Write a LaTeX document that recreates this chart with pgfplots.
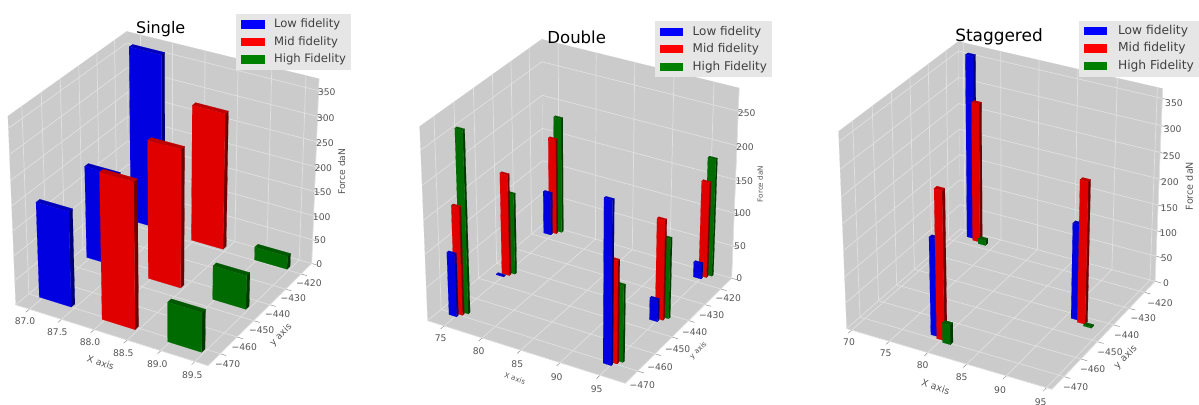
\documentclass[border=0pt]{standalone}
\usepackage{fontspec}
\usepackage{pgfplots}
\usepackage{pgfplotstable}
\pgfplotsset{compat=1.18}
\setmainfont{DejaVu Sans}
\definecolor{pane}{HTML}{CBCBCB}
\definecolor{gridc}{HTML}{E0E0E0}
\definecolor{tickc}{HTML}{8A8A8A}
\definecolor{txt}{HTML}{555555}
\definecolor{legbg}{HTML}{E6E6E6}
\definecolor{lowF}{HTML}{0000E0}\definecolor{lowT}{HTML}{0000BC}\definecolor{lowS}{HTML}{000078}
\definecolor{midF}{HTML}{E00000}\definecolor{midT}{HTML}{BE0000}\definecolor{midS}{HTML}{700000}
\definecolor{highF}{HTML}{006B00}\definecolor{highT}{HTML}{005800}\definecolor{highS}{HTML}{003800}

% unit faces of a box
\pgfplotstableread{
a b c
0 0 1
1 0 1
1 1 1
0 1 1
}\tTop
\pgfplotstableread{
a b c
0 0 0
1 0 0
1 0 1
0 0 1
}\tFront
\pgfplotstableread{
a b c
1 0 0
1 1 0
1 1 1
1 0 1
}\tSide
\pgfplotstableread{
a b c
0 0 0
0 1 0
0 1 1
0 0 1
}\tLeft
\pgfplotstableread{
a b c
0 1 0
1 1 0
1 1 1
0 1 1
}\tBack
\pgfplotstableread{
a b c
0 0 0
1 0 0
1 1 0
0 1 0
}\tFloor
\pgfplotstableread{
a b c
0 0 0
0 1 0
0 1 1
}\tGX
\pgfplotstableread{
a b c
1 0 0
0 0 0
0 0 1
}\tGY
\pgfplotstableread{
a b c
0 0 0
0 1 0
1 1 0
}\tGZ
\pgfplotstableread{
a b c
0 0 0
1 1 1
}\tSeg

% bars: x y dx dy height series, back to front
\pgfplotstableread{
x y dx dy h c
86.95 -417.7 0.5 2 359 low
87.96 -418.9 0.5 2 279 mid
88.97 -419.7 0.5 2 27 high
86.95 -443.7 0.5 2 189 low
87.96 -444.9 0.5 2 280 mid
88.97 -445.7 0.5 2 69 high
86.95 -470 0.5 2 193 low
87.96 -471.2 0.5 2 292 mid
88.97 -472 0.5 2 80 high
}\barsSingle
\pgfplotstableread{
x y dx dy h c
74.7 -414.6 1 1 176 high
74.3 -416.1 1 1 146 mid
73.9 -417.6 1 1 65 low
94.92 -414.9 1 1 177 high
94.52 -416.4 1 1 144 mid
94.12 -417.9 1 1 23 low
74.95 -442.7 1 1 122 high
74.55 -444.2 1 1 153 mid
74.15 -445.7 1 1 1 low
94.98 -442 1 1 120 high
94.58 -443.5 1 1 149 mid
94.18 -445 1 1 33 low
74.96 -468.2 1 1 269 high
74.56 -469.7 1 1 161 mid
74.16 -471.2 1 1 94 low
94.9 -468.3 1 1 113 high
94.5 -469.8 1 1 151 mid
94.1 -471.3 1 1 238 low
}\barsDouble
\pgfplotstableread{
x y dx dy h c
71 -416.1 1 1.5 356 low
72 -417.1 1 1.5 272 mid
73 -418.1 1 1.5 10 high
90.76 -442.5 1 1.5 183 low
91.76 -443.5 1 1.5 270 mid
92.76 -444.5 1 1.5 2 high
78.4 -468.6 1 1.5 186 low
79.4 -469.6 1 1.5 282 mid
80.4 -470.6 1 1.5 38 high
}\barsStag

\newcommand\prim[8]{% opts, table, x0 x1 y0 y1 z0 z1
  \addplot[forget plot,mark=none,#1] table[
    x expr={PX(#3+\thisrow{a}*(#4-#3),#5+\thisrow{b}*(#6-#5),#7+\thisrow{c}*(#8-#7))},
    y expr={PY(#3+\thisrow{a}*(#4-#3),#5+\thisrow{b}*(#6-#5),#7+\thisrow{c}*(#8-#7))}]{#2}}
\newcommand\onebar[6]{% series x y dx dy h
  \pgfmathsetmacro\xe{#2+#4}\pgfmathsetmacro\ye{#3+#5}%
  \prim{fill=#1S,draw=#1S,line width=0.1pt}{\tSide}{#2}{\xe}{#3}{\ye}{0}{#6} -- cycle;
  \prim{fill=#1T,draw=#1T,line width=0.1pt}{\tTop}{#2}{\xe}{#3}{\ye}{0}{#6} -- cycle;
  \prim{fill=#1F,draw=#1F,line width=0.1pt}{\tFront}{#2}{\xe}{#3}{\ye}{0}{#6} -- cycle;
}
\newcommand\drawbars[1]{%
  \pgfplotstablegetrowsof{#1}\pgfmathtruncatemacro\nrows{\pgfplotsretval-1}%
  \pgfplotsforeachungrouped \i in {0,...,\nrows}{%
    \pgfplotstablegetelem{\i}{x}\of{#1}\let\bx\pgfplotsretval
    \pgfplotstablegetelem{\i}{y}\of{#1}\let\by\pgfplotsretval
    \pgfplotstablegetelem{\i}{dx}\of{#1}\let\bdx\pgfplotsretval
    \pgfplotstablegetelem{\i}{dy}\of{#1}\let\bdy\pgfplotsretval
    \pgfplotstablegetelem{\i}{h}\of{#1}\let\bh\pgfplotsretval
    \pgfplotstablegetelem{\i}{c}\of{#1}\let\bc\pgfplotsretval
    \edef\cmd{\noexpand\onebar{\bc}{\bx}{\by}{\bdx}{\bdy}{\bh}}\cmd
  }%
}
\newcommand\gridx[1]{%
  \prim{draw=gridc,line width=0.55pt}{\tGX}{#1}{#1}{\ylo}{\yhi}{0}{\zhi};
  \pgfmathsetmacro\tk{\ylo-0.03*(\yhi-\ylo)}%
  \prim{draw=tickc,line width=0.35pt}{\tSeg}{#1}{#1}{\tk}{\ylo}{0}{0};
}
\newcommand\gridy[1]{%
  \prim{draw=gridc,line width=0.55pt}{\tGY}{\xlo}{\xhi}{#1}{#1}{0}{\zhi};
  \pgfmathsetmacro\tk{\xhi+0.03*(\xhi-\xlo)}%
  \prim{draw=tickc,line width=0.35pt}{\tSeg}{\xhi}{\tk}{#1}{#1}{0}{0};
}
\newcommand\gridz[1]{%
  \prim{draw=gridc,line width=0.55pt}{\tGZ}{\xlo}{\xhi}{\ylo}{\yhi}{#1}{#1};
  \pgfmathsetmacro\tk{\xhi+0.03*(\xhi-\xlo)}%
  \prim{draw=tickc,line width=0.35pt}{\tSeg}{\xhi}{\tk}{\yhi}{\yhi}{#1}{#1};
}
\newcommand\panes{%
  \prim{fill=pane,draw=pane,line width=0.1pt}{\tLeft}{\xlo}{\xhi}{\ylo}{\yhi}{0}{\zhi} -- cycle;
  \prim{fill=pane,draw=pane,line width=0.1pt}{\tBack}{\xlo}{\xhi}{\ylo}{\yhi}{0}{\zhi} -- cycle;
  \prim{fill=pane,draw=pane,line width=0.1pt}{\tFloor}{\xlo}{\xhi}{\ylo}{\yhi}{0}{\zhi} -- cycle;
}
\newcommand\edges{%
  \prim{draw=gridc,line width=0.5pt}{\tSeg}{\xlo}{\xhi}{\ylo}{\ylo}{0}{0};
  \prim{draw=gridc,line width=0.5pt}{\tSeg}{\xhi}{\xhi}{\ylo}{\yhi}{0}{0};
  \prim{draw=gridc,line width=0.5pt}{\tSeg}{\xhi}{\xhi}{\yhi}{\yhi}{0}{\zhi};
}
% view: azimuth, elevation, screen centre x y, scale x y
\newcommand\setview[6]{%
  \pgfmathsetmacro\ux{-sin(#1)}\pgfmathsetmacro\uy{cos(#1)}%
  \pgfmathsetmacro\vx{-sin(#2)*cos(#1)}\pgfmathsetmacro\vy{-sin(#2)*sin(#1)}\pgfmathsetmacro\vz{cos(#2)}%
  \pgfmathsetmacro\wx{cos(#2)*cos(#1)}\pgfmathsetmacro\wy{cos(#2)*sin(#1)}\pgfmathsetmacro\wz{sin(#2)}%
  \def\Ax{#3}\def\Ay{#4}\def\Kx{#5}\def\Ky{#6}%
}
\newcommand\setlims[5]{\def\xlo{#1}\def\xhi{#2}\def\ylo{#3}\def\yhi{#4}\def\zhi{#5}}
\pgfplotsset{panel/.style={
  scale only axis,width=300pt,height=303pt,
  xmin=0,xmax=400,ymin=0,ymax=404,y dir=reverse,
  hide axis,clip=false,anchor=south west,
  legend image code/.code={\fill[##1] (0pt,-3.1pt) rectangle (17.6pt,3.1pt);},
  legend cell align=left,
},
lg/.style n args={4}{legend style={at={(axis cs:#1,#2)},anchor=north west,draw=none,fill=legbg,
  font=\fontsize{#3}{#3}\selectfont,text=black!75,inner xsep=3.8pt,inner ysep=3.4pt,row sep=4.1pt,
  /tikz/column 1/.style={column sep=#4},
  nodes={inner sep=0pt,text height=7pt,text depth=2pt}}}}
\tikzset{tl/.style={text=txt,inner sep=0pt,font=\fontsize{6.9pt}{8pt}\selectfont,anchor=center},
  al/.style={text=txt,inner sep=0pt,anchor=center},
  ttl/.style={text=black,inner sep=0pt,anchor=center}}
\newcommand\legendstuff{%
  \addlegendimage{fill=blue,draw=none}\addlegendentry{Low fidelity}
  \addlegendimage{fill=red,draw=none}\addlegendentry{Mid fidelity}
  \addlegendimage{fill=green!50!black,draw=none}\addlegendentry{High Fidelity}
}

\begin{document}
\begin{tikzpicture}[declare function={
  nX(\xa)=(\xa-\xlo)/(\xhi-\xlo)-0.5;
  nY(\ya)=(\ya-\ylo)/(\yhi-\ylo)-0.5;
  nZ(\za)=\za/\zhi-0.5;
  dn(\xa,\ya,\za)=10-(\wx*nX(\xa)+\wy*nY(\ya)+\wz*nZ(\za));
  PX(\xa,\ya,\za)=\Ax+\Kx*(\ux*nX(\xa)+\uy*nY(\ya))/dn(\xa,\ya,\za);
  PY(\xa,\ya,\za)=\Ay-\Ky*(\vx*nX(\xa)+\vy*nY(\ya)+\vz*nZ(\za))/dn(\xa,\ya,\za);
}]
\path[use as bounding box] (0,0) rectangle (899.25pt,303pt);

% ---------- Single
\setview{-60}{30}{166}{192.8}{2220}{2155}
\setlims{86.785}{89.69}{-477}{-413}{373}
\begin{axis}[panel,at={(0pt,0pt)},lg={236}{13.7}{8.7pt}{7pt}]
\panes
\pgfplotsinvokeforeach{87,87.5,88,88.5,89,89.5}{\gridx{#1}}
\pgfplotsinvokeforeach{-470,-460,-450,-440,-430,-420}{\gridy{#1}}
\pgfplotsinvokeforeach{0,50,100,150,200,250,300,350}{\gridz{#1}}
\edges
\drawbars{\barsSingle}
\legendstuff
\node[ttl,font=\fontsize{12pt}{14pt}\selectfont] at (axis cs:160.7,29.3) {Single};
\node[tl] at (axis cs:25,321) {87.0};
\node[tl] at (axis cs:57.3,332) {87.5};
\node[tl] at (axis cs:90,342.3) {88.0};
\node[tl] at (axis cs:123.3,353.3) {88.5};
\node[tl] at (axis cs:157.3,364) {89.0};
\node[tl] at (axis cs:192.3,375) {89.5};
\node[tl] at (axis cs:309,282.7) {−420};
\node[tl] at (axis cs:293.3,297.7) {−430};
\node[tl] at (axis cs:277.7,313.7) {−440};
\node[tl] at (axis cs:261.7,330) {−450};
\node[tl] at (axis cs:244.3,346.7) {−460};
\node[tl] at (axis cs:227.7,364) {−470};
\node[tl] at (axis cs:319.3,264) {0};
\node[tl] at (axis cs:320,240) {50};
\node[tl] at (axis cs:321.7,216.7) {100};
\node[tl] at (axis cs:322.7,192.3) {150};
\node[tl] at (axis cs:323.3,167.7) {200};
\node[tl] at (axis cs:325,142.7) {250};
\node[tl] at (axis cs:325.7,117.7) {300};
\node[tl] at (axis cs:326.7,91.7) {350};
\node[al,rotate=-18,font=\fontsize{6.9pt}{8pt}\selectfont] at (axis cs:100.7,362.7) {X axis};
\node[al,rotate=45,font=\fontsize{6.9pt}{8pt}\selectfont] at (axis cs:281,335) {y axis};
\node[al,rotate=90,font=\fontsize{6.9pt}{8pt}\selectfont] at (axis cs:341.7,171.7) {Force daN};
\end{axis}

% ---------- Double
\setview{-60}{30}{182}{205.4}{2280}{2218}
\setlims{72.8}{98.1}{-477}{-413}{283}
\begin{axis}[panel,at={(300pt,0pt)},lg={254.3}{21}{9pt}{7.2pt}]
\panes
\pgfplotsinvokeforeach{75,80,85,90,95}{\gridx{#1}}
\pgfplotsinvokeforeach{-470,-460,-450,-440,-430,-420}{\gridy{#1}}
\pgfplotsinvokeforeach{0,50,100,150,200,250}{\gridz{#1}}
\edges
\drawbars{\barsDouble}
\legendstuff
\node[ttl,font=\fontsize{12.4pt}{14pt}\selectfont] at (axis cs:176.7,37.3) {Double};
\node[tl] at (axis cs:40.7,338.3) {75};
\node[tl] at (axis cs:78.7,351) {80};
\node[tl] at (axis cs:117.3,364) {85};
\node[tl] at (axis cs:156.7,376.7) {90};
\node[tl] at (axis cs:196.7,389.3) {95};
\node[tl] at (axis cs:328.3,297.7) {−420};
\node[tl] at (axis cs:311.7,315) {−430};
\node[tl] at (axis cs:294.7,332) {−440};
\node[tl] at (axis cs:277.7,349) {−450};
\node[tl] at (axis cs:260,366.7) {−460};
\node[tl] at (axis cs:242.3,385) {−470};
\node[tl] at (axis cs:339.3,278.3) {0};
\node[tl] at (axis cs:340,246) {50};
\node[tl] at (axis cs:342.3,213.3) {100};
\node[tl] at (axis cs:344.3,181) {150};
\node[tl] at (axis cs:345,147) {200};
\node[tl] at (axis cs:346.7,112.7) {250};
\node[al,rotate=-18,font=\fontsize{5.4pt}{6pt}\selectfont] at (axis cs:115,378.3) {X axis};
\node[al,rotate=45,font=\fontsize{5.4pt}{6pt}\selectfont] at (axis cs:298.3,350.7) {y axis};
\node[al,rotate=90,font=\fontsize{5.4pt}{6pt}\selectfont] at (axis cs:360.3,184) {Force daN};
\end{axis}

% ---------- Staggered
\setview{-61.5}{30}{203.5}{209.5}{2330}{2250}
\setlims{69.34}{95.66}{-477}{-413}{368}
\begin{axis}[panel,at={(600pt,0pt)},lg={278.3}{20.3}{9.2pt}{8.2pt}]
\panes
\pgfplotsinvokeforeach{70,75,80,85,90,95}{\gridx{#1}}
\pgfplotsinvokeforeach{-470,-460,-450,-440,-430,-420}{\gridy{#1}}
\pgfplotsinvokeforeach{0,50,100,150,200,250,300,350}{\gridz{#1}}
\edges
\drawbars{\barsStag}
\legendstuff
\node[ttl,font=\fontsize{12.7pt}{14pt}\selectfont] at (axis cs:199,36.7) {Staggered};
\node[tl] at (axis cs:49,341.7) {70};
\node[tl] at (axis cs:85.7,353.3) {75};
\node[tl] at (axis cs:122.7,365.3) {80};
\node[tl] at (axis cs:161.7,377.3) {85};
\node[tl] at (axis cs:200,390) {90};
\node[tl] at (axis cs:240.7,402.3) {95};
\node[tl] at (axis cs:360,302.7) {−420};
\node[tl] at (axis cs:343.3,318.3) {−430};
\node[tl] at (axis cs:326.7,335) {−440};
\node[tl] at (axis cs:310,351.7) {−450};
\node[tl] at (axis cs:292.7,369) {−460};
\node[tl] at (axis cs:275.7,386.7) {−470};
\node[tl] at (axis cs:366,283.3) {0};
\node[tl] at (axis cs:366.7,258.3) {50};
\node[tl] at (axis cs:368.3,233.3) {100};
\node[tl] at (axis cs:369.3,207.7) {150};
\node[tl] at (axis cs:370,181.7) {200};
\node[tl] at (axis cs:371.7,155.7) {250};
\node[tl] at (axis cs:372.7,129.3) {300};
\node[tl] at (axis cs:374,102.7) {350};
\node[al,rotate=-18,font=\fontsize{7.2pt}{8pt}\selectfont] at (axis cs:135.7,386.7) {X axis};
\node[al,rotate=45,font=\fontsize{7.2pt}{8pt}\selectfont] at (axis cs:325.7,357.3) {y axis};
\node[al,rotate=90,font=\fontsize{7.2pt}{8pt}\selectfont] at (axis cs:389.3,186) {Force daN};
\end{axis}
\end{tikzpicture}
\end{document}
